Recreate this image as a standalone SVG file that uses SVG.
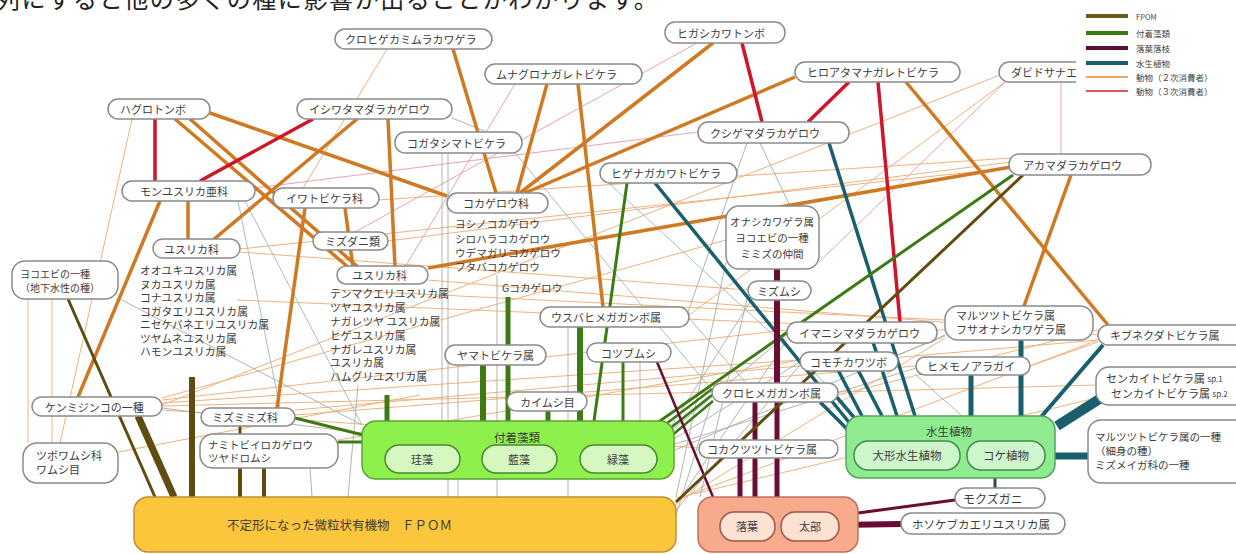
<svg xmlns="http://www.w3.org/2000/svg" width="1236" height="554" viewBox="0 0 1236 554">
<style>
text{font-family:"Noto Sans CJK JP","Noto Sans",sans-serif;fill:#3c3c3c;font-size:11px}
.n rect{fill:#fff;stroke:#8a8a8a;stroke-width:1.5}
.c line{stroke-linecap:butt;fill:none}
.o{stroke:#cf7a22;stroke-width:3.5}
.r{stroke:#d0142a;stroke-width:3.5}
.tl{stroke:#1a5f6e;stroke-width:3.5}
.g{stroke:#3c7a14;stroke-width:3}
.m{stroke:#6a0d34;stroke-width:5}
.f{stroke:#5f4c10;stroke-width:3}
.to{stroke:#efb27e;stroke-width:1}
.tp{stroke:#eca2b0;stroke-width:1}
.tg{stroke:#a9ada0;stroke-width:0.9}
.tt{stroke:#9ab8bc;stroke-width:0.9}
.lg text{font-size:8.5px;fill:#444}
.ls{font-size:10.8px}
</style>
<rect width="1236" height="554" fill="#fff"/>
<text x="-4" y="8" style="font-size:24px;letter-spacing:1.6px;fill:#222">列にすると他の多くの種に影響が出ることがわかります。</text>

<g id="connectors" class="c">
<line class="to" x1="1000" y1="75" x2="162" y2="405"/>
<line class="to" x1="1005" y1="82" x2="689" y2="315"/>
<line class="to" x1="1011" y1="162" x2="388" y2="241"/>
<line class="to" x1="1011" y1="158" x2="378" y2="200"/>
<line class="to" x1="1011" y1="168" x2="240" y2="249"/>
<line class="to" x1="162" y1="403" x2="800" y2="360"/>
<line class="to" x1="162" y1="406" x2="712" y2="392"/>
<line class="to" x1="162" y1="410" x2="699" y2="448"/>
<line class="to" x1="118" y1="452" x2="420" y2="395"/>
<line class="to" x1="28" y1="299" x2="28" y2="443"/>
<line class="to" x1="52" y1="299" x2="52" y2="443"/>
<line class="to" x1="132" y1="119" x2="60" y2="443"/>
<line class="to" x1="945" y1="320" x2="338" y2="290"/>
<line class="to" x1="787" y1="330" x2="162" y2="400"/>
<line class="to" x1="748" y1="290" x2="240" y2="252"/>
<line class="to" x1="1098" y1="335" x2="428" y2="280"/>
<line class="to" x1="1098" y1="340" x2="295" y2="410"/>
<line class="to" x1="945" y1="330" x2="237" y2="300"/>
<line class="to" x1="800" y1="360" x2="338" y2="440"/>
<line class="to" x1="916" y1="366" x2="295" y2="415"/>
<line class="to" x1="726" y1="240" x2="162" y2="398"/>
<line class="to" x1="838" y1="392" x2="1096" y2="385"/>
<line class="to" x1="1030" y1="366" x2="1098" y2="342"/>
<line class="to" x1="387" y1="49" x2="303" y2="188"/>
<line class="tp" x1="1061" y1="82" x2="1061" y2="153"/>
<line class="tp" x1="698" y1="132" x2="255" y2="188"/>
<line class="tp" x1="697" y1="43" x2="355" y2="232"/>
<line class="tp" x1="515" y1="84" x2="405" y2="267"/>
<line class="tp" x1="1005" y1="82" x2="819" y2="262"/>
<line class="tg" x1="672" y1="430" x2="787" y2="335"/>
<line class="tg" x1="672" y1="440" x2="800" y2="362"/>
<line class="tg" x1="672" y1="445" x2="916" y2="368"/>
<line class="tg" x1="675" y1="450" x2="945" y2="335"/>
<line class="tg" x1="676" y1="505" x2="787" y2="340"/>
<line class="tg" x1="676" y1="510" x2="800" y2="365"/>
<line class="tg" x1="676" y1="515" x2="712" y2="400"/>
<line class="to" x1="676" y1="500" x2="1098" y2="340"/>
<line class="to" x1="676" y1="503" x2="945" y2="338"/>
<line class="to" x1="676" y1="498" x2="1096" y2="398"/>
<line class="tg" x1="700" y1="497" x2="748" y2="295"/>
<line class="tg" x1="672" y1="425" x2="752" y2="299"/>
<line class="tg" x1="442" y1="153" x2="442" y2="421"/>
<line class="tg" x1="448" y1="153" x2="448" y2="497"/>
<line class="tg" x1="458" y1="364" x2="458" y2="497"/>
<line class="tg" x1="497" y1="275" x2="497" y2="497"/>
<line class="tg" x1="568" y1="327" x2="568" y2="497"/>
<line class="tg" x1="640" y1="362" x2="640" y2="421"/>
<line class="tg" x1="162" y1="408" x2="362" y2="433"/>
<line class="tg" x1="118" y1="298" x2="362" y2="425"/>
<line class="tg" x1="310" y1="468" x2="312" y2="497"/>
<line class="tg" x1="358" y1="385" x2="348" y2="497"/>
<line class="tt" x1="245" y1="201" x2="362" y2="425"/>
<line class="tt" x1="238" y1="201" x2="280" y2="408"/>
<line class="tt" x1="515" y1="153" x2="712" y2="390"/>
<line class="tg" x1="452" y1="118" x2="487" y2="132"/>
<line class="tg" x1="747" y1="143" x2="688" y2="312"/>
<line class="tg" x1="760" y1="143" x2="790" y2="206"/>
<line class="tt" x1="600" y1="175" x2="838" y2="395"/>
<line class="tg" x1="945" y1="336" x2="898" y2="355"/>
<line class="tg" x1="916" y1="375" x2="990" y2="441"/>
<line class="tg" x1="726" y1="262" x2="676" y2="497"/>
<line class="tg" x1="688" y1="317" x2="746" y2="383"/>
<line class="to" x1="1098" y1="330" x2="838" y2="395"/>
<line class="o" x1="453" y1="49" x2="496" y2="193"/>
<line class="o" x1="547" y1="84" x2="517" y2="193"/>
<line class="o" x1="578" y1="84" x2="603" y2="307"/>
<line class="o" x1="713" y1="43" x2="520" y2="193"/>
<line class="o" x1="795" y1="77" x2="525" y2="193"/>
<line class="o" x1="906" y1="82" x2="1108" y2="325"/>
<line class="o" x1="428" y1="268" x2="1011" y2="167"/>
<line class="o" x1="1071" y1="175" x2="1024" y2="306"/>
<line class="o" x1="175" y1="119" x2="348" y2="267"/>
<line class="o" x1="190" y1="119" x2="358" y2="267"/>
<line class="o" x1="210" y1="113" x2="447" y2="196"/>
<line class="o" x1="357" y1="119" x2="213" y2="240"/>
<line class="o" x1="388" y1="119" x2="395" y2="267"/>
<line class="o" x1="160" y1="201" x2="78" y2="397"/>
<line class="o" x1="188" y1="201" x2="188" y2="239"/>
<line class="o" x1="305" y1="208" x2="277" y2="408"/>
<line class="o" x1="345" y1="208" x2="353" y2="267"/>
<line class="r" x1="155" y1="119" x2="155" y2="181"/>
<line class="r" x1="313" y1="119" x2="200" y2="181"/>
<line class="r" x1="742" y1="43" x2="762" y2="122"/>
<line class="r" x1="849" y1="82" x2="808" y2="122"/>
<line class="r" x1="878" y1="82" x2="900" y2="322"/>
<line class="tl" x1="829" y1="143" x2="915" y2="416"/>
<line class="tl" x1="655" y1="183" x2="852" y2="426"/>
<line class="tl" x1="820" y1="402" x2="848" y2="430"/>
<line class="tl" x1="835" y1="395" x2="857" y2="421"/>
<line class="tl" x1="838" y1="370" x2="862" y2="416"/>
<line class="tl" x1="858" y1="370" x2="882" y2="416"/>
<line class="tl" x1="873" y1="342" x2="897" y2="416"/>
<line class="tl" x1="971" y1="375" x2="971" y2="416" style="stroke-width:5"/>
<line class="tl" x1="1021" y1="340" x2="1021" y2="441" style="stroke-width:5"/>
<line class="tl" x1="1103" y1="345" x2="1041" y2="417" style="stroke-width:4"/>
<line class="tl" x1="1101" y1="398" x2="1057" y2="426" style="stroke-width:10"/>
<line class="tl" x1="1046" y1="456" x2="1088" y2="456" style="stroke-width:7"/>
<line class="tl" x1="995" y1="478" x2="995" y2="488" style="stroke:#2e4a44;stroke-width:3"/>
<line class="g" x1="1013" y1="175" x2="657" y2="423"/>
<line class="g" x1="627" y1="183" x2="594" y2="421"/>
<line class="g" x1="508" y1="297" x2="508" y2="421" style="stroke-width:5"/>
<line class="g" x1="483" y1="364" x2="483" y2="421" style="stroke-width:6"/>
<line class="g" x1="580" y1="327" x2="580" y2="421" style="stroke-width:6"/>
<line class="g" x1="623" y1="362" x2="623" y2="421"/>
<line class="g" x1="548" y1="410" x2="548" y2="421" style="stroke-width:5"/>
<line class="g" x1="295" y1="418" x2="363" y2="435"/>
<line class="g" x1="338" y1="442" x2="363" y2="442"/>
<line class="g" x1="387" y1="395" x2="387" y2="421" style="stroke-width:5"/>
<line class="g" x1="712" y1="389" x2="666" y2="424" style="stroke-width:2.5"/>
<line class="g" x1="712" y1="395" x2="668" y2="430" style="stroke-width:2.5"/>
<line class="g" x1="713" y1="401" x2="670" y2="437" style="stroke-width:2.5"/>
<line class="m" x1="777" y1="269" x2="777" y2="282" style="stroke-width:6"/>
<line class="m" x1="777" y1="299" x2="777" y2="383" style="stroke-width:6"/>
<line class="m" x1="755" y1="402" x2="755" y2="512"/>
<line class="m" x1="777" y1="402" x2="777" y2="497"/>
<line class="m" x1="740" y1="458" x2="740" y2="512"/>
<line class="m" x1="657" y1="362" x2="713" y2="497" style="stroke-width:2.5"/>
<line class="m" x1="838" y1="525" x2="901" y2="524" style="stroke-width:6"/>
<line class="m" x1="858" y1="513" x2="955" y2="500" style="stroke-width:3"/>
<line class="f" x1="1023" y1="175" x2="676" y2="502"/>
<line class="f" x1="68" y1="299" x2="155" y2="497"/>
<line class="f" x1="138" y1="416" x2="174" y2="497" style="stroke-width:7"/>
<line class="f" x1="192" y1="377" x2="192" y2="497" style="stroke-width:6"/>
<line class="f" x1="240" y1="426" x2="240" y2="434"/>
<line class="f" x1="240" y1="468" x2="240" y2="497" style="stroke-width:4"/>
<line class="f" x1="264" y1="468" x2="264" y2="497" style="stroke-width:4"/>
</g>

<g id="fuchaku">
<rect x="362" y="421" width="312" height="58" rx="14" fill="#8ef04c" stroke="#5ca232" stroke-width="1.5"/>
<text x="517" y="437" text-anchor="middle" dominant-baseline="central" style="font-size:11.5px">付着藻類</text>
<rect x="385" y="445" width="75" height="28" rx="14" fill="#d6f7c0" stroke="#4a8a30" stroke-width="1.5"/>
<text x="422" y="459" text-anchor="middle" dominant-baseline="central">珪藻</text>
<rect x="482" y="445" width="75" height="28" rx="14" fill="#d6f7c0" stroke="#4a8a30" stroke-width="1.5"/>
<text x="519" y="459" text-anchor="middle" dominant-baseline="central">藍藻</text>
<rect x="580" y="445" width="77" height="28" rx="14" fill="#d6f7c0" stroke="#4a8a30" stroke-width="1.5"/>
<text x="618" y="459" text-anchor="middle" dominant-baseline="central">緑藻</text>
</g>
<g id="fpom">
<rect x="134" y="497" width="542" height="55" rx="14" fill="#fcc63c" stroke="#c09030" stroke-width="1.5"/>
<text x="227" y="524" dominant-baseline="central" style="font-size:12.5px">不定形になった微粒状有機物　ＦＰＯＭ</text>
</g>
<g id="rakuyou">
<rect x="698" y="497" width="160" height="55" rx="14" fill="#f8aa8c" stroke="#c07060" stroke-width="1.5"/>
<rect x="720" y="512" width="55" height="29" rx="14" fill="#fde2d4" stroke="#9a5a4a" stroke-width="1.5"/>
<text x="747" y="526" text-anchor="middle" dominant-baseline="central">落葉</text>
<rect x="781" y="512" width="58" height="29" rx="14" fill="#fde2d4" stroke="#9a5a4a" stroke-width="1.5"/>
<text x="810" y="526" text-anchor="middle" dominant-baseline="central">太部</text>
</g>
<g id="suisei">
<rect x="846" y="416" width="209" height="62" rx="14" fill="#8eec8e" stroke="#5aa060" stroke-width="1.5"/>
<text x="949" y="431" text-anchor="middle" dominant-baseline="central" style="font-size:11.5px">水生植物</text>
<rect x="854" y="441" width="106" height="29" rx="14" fill="#cdf6cd" stroke="#4a8a50" stroke-width="1.5"/>
<text x="907" y="455" text-anchor="middle" dominant-baseline="central" style="font-size:11.5px">大形水生植物</text>
<rect x="967" y="441" width="78" height="29" rx="14" fill="#cdf6cd" stroke="#4a8a50" stroke-width="1.5"/>
<text x="1006" y="455" text-anchor="middle" dominant-baseline="central" style="font-size:11.5px">コケ植物</text>
</g>

<g id="n1" class="n"><rect x="335" y="29" width="157" height="20" rx="10"/><text x="345" y="39" dominant-baseline="central">クロヒゲカミムラカワゲラ</text></g>
<g id="n2" class="n"><rect x="665" y="22" width="120" height="21" rx="10"/><text x="677" y="32.5" dominant-baseline="central">ヒガシカワトンボ</text></g>
<g id="n3" class="n"><rect x="485" y="64" width="157" height="20" rx="10"/><text x="496" y="74" dominant-baseline="central">ムナグロナガレトビケラ</text></g>
<g id="n4" class="n"><rect x="795" y="62" width="165" height="20" rx="10"/><text x="807" y="72" dominant-baseline="central">ヒロアタマナガレトビケラ</text></g>
<g id="n5" class="n"><rect x="999" y="62" width="110" height="20" rx="10"/><text x="1011" y="72" dominant-baseline="central">ダビドサナエ</text></g>
<g id="n6" class="n"><rect x="108" y="99" width="102" height="20" rx="10"/><text x="120" y="109" dominant-baseline="central">ハグロトンボ</text></g>
<g id="n7" class="n"><rect x="297" y="99" width="155" height="20" rx="10"/><text x="309" y="109" dominant-baseline="central">イシワタマダラカゲロウ</text></g>
<g id="n8" class="n"><rect x="395" y="132" width="127" height="21" rx="10"/><text x="407" y="142.5" dominant-baseline="central">コガタシマトビケラ</text></g>
<g id="n9" class="n"><rect x="698" y="122" width="151" height="21" rx="10"/><text x="710" y="132.5" dominant-baseline="central">クシゲマダラカゲロウ</text></g>
<g id="n10" class="n"><rect x="1009" y="154" width="142" height="21" rx="10"/><text x="1023" y="164.5" dominant-baseline="central">アカマダラカゲロウ</text></g>
<g id="n11" class="n"><rect x="122" y="181" width="133" height="20" rx="10"/><text x="140" y="191" dominant-baseline="central">モンユスリカ亜科</text></g>
<g id="n12" class="n"><rect x="273" y="188" width="106" height="20" rx="10"/><text x="286" y="198" dominant-baseline="central">イワトビケラ科</text></g>
<g id="n13" class="n"><rect x="447" y="193" width="101" height="20" rx="10"/><text x="463" y="203" dominant-baseline="central">コカゲロウ科</text></g>
<g id="n14" class="n"><rect x="600" y="163" width="137" height="20" rx="10"/><text x="611" y="173" dominant-baseline="central">ヒゲナガカワトビケラ</text></g>
<g id="n15" class="n"><rect x="153" y="239" width="87" height="19" rx="9.5"/><text x="164" y="248.5" dominant-baseline="central">ユスリカ科</text></g>
<g id="list15">
<text class="ls" x="140" y="270" dominant-baseline="central">オオユキユスリカ属</text>
<text class="ls" x="140" y="283.5" dominant-baseline="central">ヌカユスリカ属</text>
<text class="ls" x="140" y="297" dominant-baseline="central">コナユスリカ属</text>
<text class="ls" x="140" y="310.5" dominant-baseline="central">コガタエリユスリカ属</text>
<text class="ls" x="140" y="324" dominant-baseline="central">ニセケバネエリユスリカ属</text>
<text class="ls" x="140" y="337.5" dominant-baseline="central">ツヤムネユスリカ属</text>
<text class="ls" x="140" y="351" dominant-baseline="central">ハモンユスリカ属</text>
</g>
<g id="n16" class="n"><rect x="313" y="232" width="75" height="18" rx="9"/><text x="325" y="241" dominant-baseline="central">ミズダニ類</text></g>
<g id="n17" class="n"><rect x="337" y="266" width="91" height="18" rx="9"/><text x="352" y="275" dominant-baseline="central">ユスリカ科</text></g>
<g id="list17">
<text class="ls" x="330" y="293" dominant-baseline="central">テンマクエリユスリカ属</text>
<text class="ls" x="330" y="307" dominant-baseline="central">ツヤユスリカ属</text>
<text class="ls" x="330" y="321" dominant-baseline="central">ナガレツヤ ユスリカ属</text>
<text class="ls" x="330" y="335" dominant-baseline="central">ヒゲユスリカ属</text>
<text class="ls" x="330" y="349" dominant-baseline="central">ナガレユスリカ属</text>
<text class="ls" x="330" y="362" dominant-baseline="central">ユスリカ属</text>
<text class="ls" x="330" y="376" dominant-baseline="central">ハムグリユスリカ属</text>
</g>
<g id="list13">
<text x="455" y="223" dominant-baseline="central" style="font-size:10.6px">ヨシノコカゲロウ</text>
<text x="455" y="238" dominant-baseline="central" style="font-size:10.6px">シロハラコカゲロウ</text>
<text x="455" y="252" dominant-baseline="central" style="font-size:10.6px">ウデマガリコカゲロウ</text>
<text x="455" y="266" dominant-baseline="central" style="font-size:10.6px">フタバコカゲロウ</text>
</g>
<text id="n21" x="502" y="287" dominant-baseline="central" style="font-size:10.6px">Gコカゲロウ</text>
<g id="n18" class="n"><rect x="12" y="261" width="106" height="38" rx="13"/><text x="20" y="273" dominant-baseline="central" style="font-size:10px">ヨコエビの一種</text><text x="20" y="287" dominant-baseline="central" style="font-size:10px">（地下水性の種）</text></g>
<g id="n19" class="n"><rect x="726" y="206" width="93" height="63" rx="13"/><text x="772" y="221" text-anchor="middle" dominant-baseline="central" style="font-size:10.5px">オナシカワゲラ属</text><text x="772" y="237" text-anchor="middle" dominant-baseline="central" style="font-size:10.5px">ヨコエビの一種</text><text x="772" y="253" text-anchor="middle" dominant-baseline="central" style="font-size:10.5px">ミミズの仲間</text></g>
<g id="n20" class="n"><rect x="748" y="281" width="63" height="19" rx="9.5"/><text x="779" y="290.5" text-anchor="middle" dominant-baseline="central">ミズムシ</text></g>
<g id="n22" class="n"><rect x="540" y="307" width="149" height="20" rx="10"/><text x="551" y="317" dominant-baseline="central">ウスバヒメガガンボ属</text></g>
<g id="n23" class="n"><rect x="445" y="345" width="101" height="20" rx="10"/><text x="457" y="355" dominant-baseline="central">ヤマトビケラ属</text></g>
<g id="n24" class="n"><rect x="587" y="343" width="84" height="19" rx="9.5"/><text x="601" y="352.5" dominant-baseline="central">コツブムシ</text></g>
<g id="n25" class="n"><rect x="507" y="392" width="80" height="19" rx="9.5"/><text x="520" y="401.5" dominant-baseline="central">カイムシ目</text></g>
<g id="n26" class="n"><rect x="787" y="322" width="150" height="21" rx="10"/><text x="799" y="332.5" dominant-baseline="central">イマニシマダラカゲロウ</text></g>
<g id="n27" class="n"><rect x="800" y="352" width="98" height="19" rx="9.5"/><text x="810" y="361.5" dominant-baseline="central">コモチカワツボ</text></g>
<g id="n28" class="n"><rect x="945" y="306" width="148" height="34" rx="13"/><text x="956" y="315" dominant-baseline="central">マルツツトビケラ属</text><text x="956" y="329" dominant-baseline="central">フサオナシカワゲラ属</text></g>
<g id="n29" class="n"><rect x="1098" y="325" width="150" height="20" rx="10"/><text x="1110" y="335" dominant-baseline="central">キブネクダトビケラ属</text></g>
<g id="n30" class="n"><rect x="916" y="357" width="114" height="18" rx="9"/><text x="927" y="366" dominant-baseline="central">ヒメモノアラガイ</text></g>
<g id="n31" class="n"><rect x="712" y="383" width="126" height="19" rx="9.5"/><text x="722" y="392.5" dominant-baseline="central">クロヒメガガンボ属</text></g>
<g id="n32" class="n"><rect x="1096" y="367" width="160" height="38" rx="13"/><text x="1106" y="378" dominant-baseline="central">センカイトビケラ属 <tspan style="font-size:8px">sp.1</tspan></text><text x="1111" y="393" dominant-baseline="central">センカイトビケラ属 <tspan style="font-size:8px">sp.2</tspan></text></g>
<g id="n33" class="n"><rect x="1088" y="420" width="160" height="63" rx="13"/><text x="1095" y="436" dominant-baseline="central" style="font-size:10.5px">マルツツトビケラ属の一種</text><text x="1095" y="450" dominant-baseline="central" style="font-size:10.5px">（細身の種）</text><text x="1095" y="464" dominant-baseline="central" style="font-size:10.5px">ミズメイガ科の一種</text></g>
<g id="n34" class="n"><rect x="32" y="397" width="130" height="19" rx="9.5"/><text x="45" y="406.5" dominant-baseline="central">ケンミジンコの一種</text></g>
<g id="n35" class="n"><rect x="23" y="443" width="95" height="40" rx="14"/><text x="36" y="455" dominant-baseline="central">ツボワムシ科</text><text x="36" y="469" dominant-baseline="central">ワムシ目</text></g>
<g id="n36" class="n"><rect x="201" y="408" width="94" height="18" rx="9"/><text x="212" y="417" dominant-baseline="central">ミズミミズ科</text></g>
<g id="n37" class="n"><rect x="200" y="434" width="138" height="34" rx="13"/><text x="208" y="444.5" dominant-baseline="central" style="font-size:10.5px">ナミトビイロカゲロウ</text><text x="208" y="457.5" dominant-baseline="central" style="font-size:10.5px">ツヤドロムシ</text></g>
<g id="n44" class="n"><rect x="699" y="440" width="139" height="18" rx="9"/><text x="707" y="449" dominant-baseline="central">コカクツツトビケラ属</text></g>
<g id="n42" class="n"><rect x="955" y="488" width="90" height="20" rx="10"/><text x="963" y="498" dominant-baseline="central" style="font-size:12px">モクズガニ</text></g>
<g id="n43" class="n"><rect x="901" y="513" width="164" height="21" rx="10.5"/><text x="912" y="523.5" dominant-baseline="central" style="font-size:11.5px">ホソケブカエリユスリカ属</text></g>

<g id="legend" class="lg">
<rect x="1076" y="0" width="160" height="100" fill="#fff"/>
<line x1="1086" y1="16" x2="1128" y2="16" stroke="#6b5a1a" stroke-width="4"/>
<line x1="1086" y1="33" x2="1128" y2="33" stroke="#3c7a14" stroke-width="4"/>
<line x1="1086" y1="48" x2="1128" y2="48" stroke="#5a1030" stroke-width="4"/>
<line x1="1086" y1="63" x2="1128" y2="63" stroke="#1a5f6e" stroke-width="4"/>
<line x1="1086" y1="77" x2="1128" y2="77" stroke="#e08a30" stroke-width="1.5"/>
<line x1="1086" y1="91" x2="1128" y2="91" stroke="#d8202e" stroke-width="1.5"/>
<text x="1136" y="16" dominant-baseline="central" style="font-size:7.5px">FPOM</text>
<text x="1136" y="33" dominant-baseline="central">付着藻類</text>
<text x="1136" y="48" dominant-baseline="central">落葉落枝</text>
<text x="1136" y="63" dominant-baseline="central">水生植物</text>
<text x="1136" y="77" dominant-baseline="central">動物（２次消費者）</text>
<text x="1136" y="91" dominant-baseline="central">動物（３次消費者）</text>
</g>
</svg>
